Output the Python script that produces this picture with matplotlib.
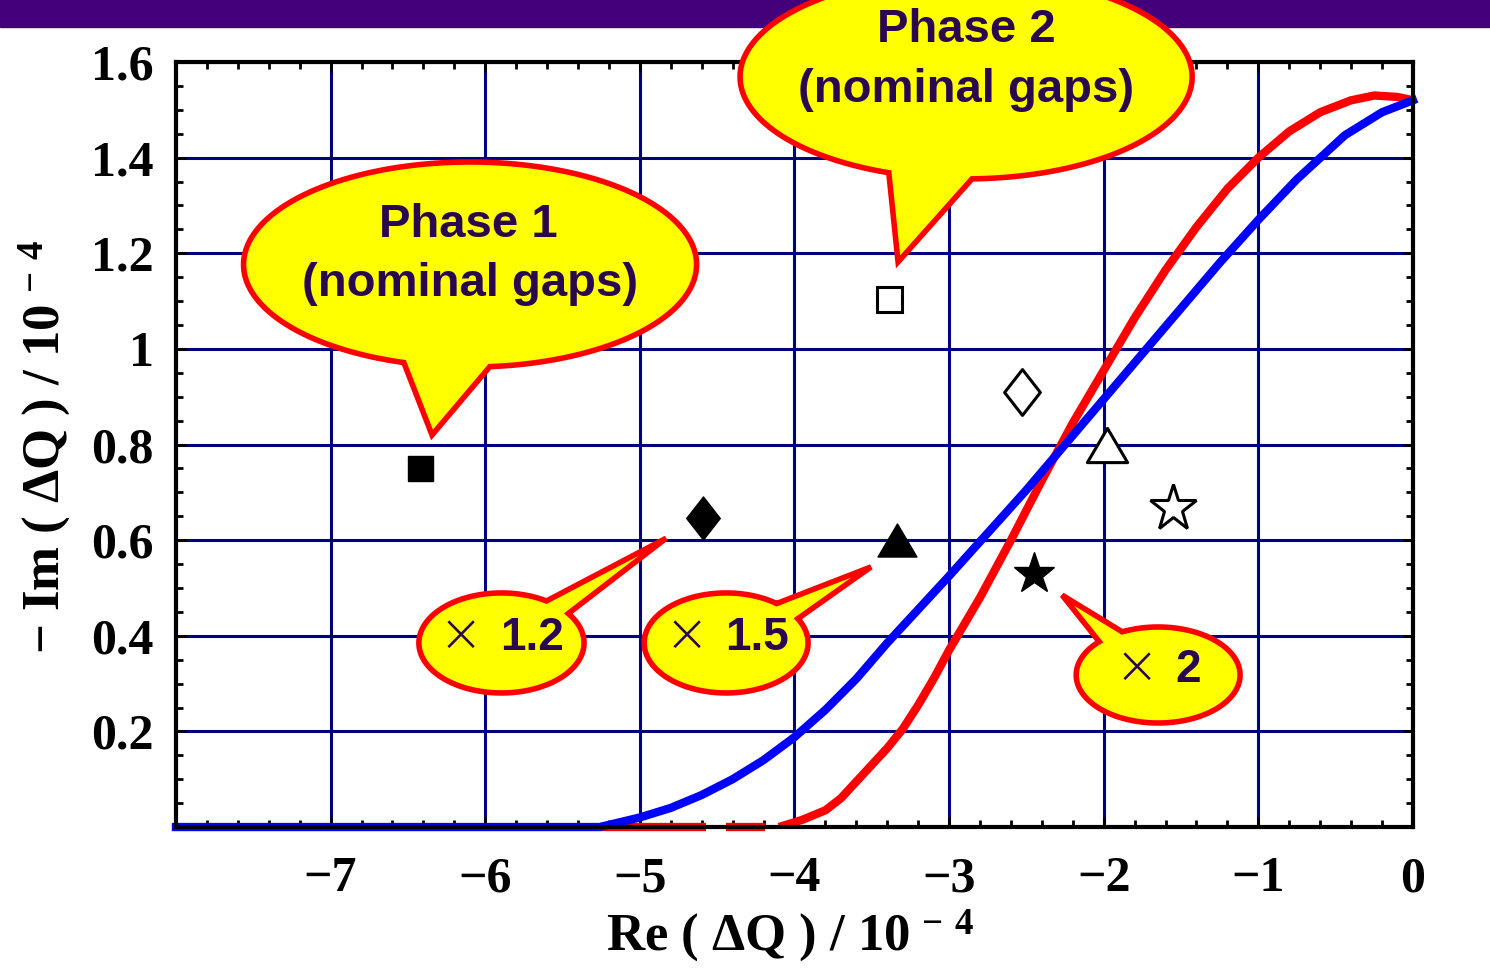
import numpy as np
import matplotlib
matplotlib.use("Agg")
import matplotlib.pyplot as plt
from matplotlib.patches import Polygon, Rectangle
from matplotlib.path import Path
from matplotlib.ticker import MultipleLocator

plt.rcParams['mathtext.fontset'] = 'custom'
plt.rcParams['mathtext.rm'] = 'Liberation Serif:bold'
plt.rcParams['mathtext.it'] = 'Liberation Serif:bold'
plt.rcParams['mathtext.bf'] = 'Liberation Serif:bold'

# stability curves
blue_x = [-8.0, -5.6, -5.26, -5.0, -4.8, -4.6, -4.4, -4.2, -4.0, -3.8, -3.6, -3.4,
          -3.2, -3.0, -2.75, -2.5, -2.25, -2.0, -1.75, -1.5, -1.25, -1.0, -0.75,
          -0.44, -0.2, 0.0]
blue_y = [0.0, 0.0, 0.0, 0.02, 0.04, 0.067, 0.10, 0.14, 0.188, 0.245, 0.31, 0.385,
          0.455, 0.525, 0.615, 0.705, 0.80, 0.895, 0.99, 1.085, 1.18, 1.27, 1.355,
          1.447, 1.495, 1.52]

red_x = [-4.1, -3.95, -3.8, -3.7, -3.6, -3.5, -3.4, -3.3, -3.2, -3.1, -3.0, -2.8, -2.6,
         -2.4, -2.2, -2.0, -1.8, -1.6, -1.4, -1.2, -1.0, -0.8, -0.6, -0.4,
         -0.25, -0.1, 0.0]
red_y = [0.0, 0.015, 0.035, 0.06, 0.095, 0.13, 0.165, 0.205, 0.255, 0.31, 0.37, 0.48,
         0.60, 0.725, 0.845, 0.955, 1.065, 1.165, 1.255, 1.335, 1.40, 1.455,
         1.495, 1.52, 1.53, 1.527, 1.52]
# flat red stretches along the axis before the curve lifts off
red_flat_start = [-5.26, -4.44]
red_flat_end = [-4.57, -4.19]

# measured working points
filled_x = {'s': -6.42, 'D': -4.59, '^': -3.34, '*': -2.45}
filled_y = {'s': 0.75, 'D': 0.646, '^': 0.60, '*': 0.529}
open_x = {'s': -3.39, 'D': -2.53, '^': -1.98, '*': -1.55}
open_y = {'s': 1.104, 'D': 0.91, '^': 0.80, '*': 0.667}

x_ticks = [-7, -6, -5, -4, -3, -2, -1, 0]
y_ticks = [0.2, 0.4, 0.6, 0.8, 1.0, 1.2, 1.4, 1.6]
y_tick_labels = ['0.2', '0.4', '0.6', '0.8', '1', '1.2', '1.4', '1.6']

NAVY = '#000080'
TXT = '#2a0850'
SERIF = 'Liberation Serif'

diamond = Path([(0, 1), (0.78, 0), (0, -1), (-0.78, 0), (0, 1)], closed=True)
triangle = Path([(-1, -0.85), (1, -0.85), (0, 0.85), (-1, -0.85)], closed=True)
marker_shape = {'s': ('s', 18), 'D': (diamond, 31), '^': (triangle, 28), '*': ('*', 31)}
open_size = {'s': 18, 'D': 33, '^': 29, '*': 35}

fig = plt.figure(figsize=(14.9, 9.77), dpi=100)
fig.patches.append(Rectangle((0, 0.9724), 1, 0.0276, transform=fig.transFigure,
                             color='#43007a', zorder=-1))
ax = fig.add_axes([0.1181, 0.1535, 0.8302, 0.7830])

ax.plot(red_x, red_y, color='red', lw=6, zorder=3, solid_capstyle='butt')
for x0, x1 in zip(red_flat_start, red_flat_end):
    ax.plot([x0, x1], [0, 0], color='red', lw=6, zorder=3, solid_capstyle='butt',
            clip_on=False)
ax.plot(blue_x, blue_y, color='blue', lw=6, zorder=3.2, clip_on=False)

for k in filled_x:
    m, ms = marker_shape[k]
    ax.plot(filled_x[k], filled_y[k], marker=m, ms=ms, color='black', ls='none',
            zorder=4)
    ax.plot(open_x[k], open_y[k], marker=m, ms=open_size[k], mfc='white', mec='black',
            mew=2.2, ls='none', zorder=4)

ax.set_xlim(-8, 0)
ax.set_ylim(0, 1.6)
ax.set_xticks(x_ticks)
ax.set_yticks(y_ticks)
ax.set_yticklabels(y_tick_labels)
ax.xaxis.set_minor_locator(MultipleLocator(0.2))
ax.yaxis.set_minor_locator(MultipleLocator(0.05))
ax.grid(True, which='major', color=NAVY, lw=2.2)
ax.set_axisbelow(True)
ax.tick_params(which='both', direction='in', top=True, right=True, width=2, color='black')
ax.tick_params(which='major', length=7)
ax.tick_params(which='minor', length=5)
ax.tick_params(axis='x', which='major', pad=21)
ax.tick_params(axis='y', which='major', pad=16)
for lab in ax.get_xticklabels() + ax.get_yticklabels():
    lab.set_fontfamily(SERIF)
    lab.set_fontweight('bold')
    lab.set_fontsize(36)
for sp in ax.spines.values():
    sp.set_linewidth(3)
    sp.set_zorder(3.5)

ax.set_xlabel('Re ( ΔQ ) / 10$^{\\,-\\,4}$', fontfamily=SERIF, fontweight='bold',
              fontsize=38)
ax.set_ylabel('− Im ( ΔQ ) / 10$^{\\,-\\,4}$', fontfamily=SERIF, fontweight='bold',
              fontsize=38)
ax.xaxis.set_label_coords(0.496, -0.105)
ax.yaxis.set_label_coords(-0.083, 0.497)


def callout(cx, cy, a, b, ta, tb, tip):
    t = np.radians(np.linspace(tb, ta + 360, 200))
    pts = np.column_stack([cx + a * np.cos(t), cy + b * np.sin(t)])
    pts = np.vstack([pts, tip])
    ax.add_patch(Polygon(pts, closed=True, facecolor='#ffff00', edgecolor='red',
                         lw=4, joinstyle='miter', clip_on=False, zorder=6))


callout(-6.098, 1.1765, 1.465, 0.2144, -107, -85, (-6.344, 0.820))
callout(-2.890, 1.569, 1.462, 0.2134, -110, -88.5, (-3.330, 1.182))
callout(-5.895, 0.385, 0.534, 0.1046, 36, 57, (-4.83, 0.604))
callout(-4.442, 0.385, 0.530, 0.1046, 29, 52, (-3.505, 0.544))
callout(-1.648, 0.318, 0.530, 0.1004, 116, 136, (-2.269, 0.485))

bold = dict(family='Liberation Sans', weight='bold', color=TXT, fontsize=34,
            ha='center', va='center', zorder=7, clip_on=False)
ax.text(-6.11, 1.26, 'Phase 1', **bold)
ax.text(-6.10, 1.135, '(nominal gaps)', **bold)
ax.text(-2.89, 1.667, 'Phase 2', **bold)
ax.text(-2.89, 1.541, '(nominal gaps)', **bold)

cross = dict(family='DejaVu Sans', weight='light', color=TXT, fontsize=38,
             ha='center', va='center', zorder=7, clip_on=False)
mult = dict(bold, fontsize=33)
ax.text(-6.157, 0.400, '×', **cross)
ax.text(-5.694, 0.396, '1.2', **mult)
ax.text(-4.70, 0.400, '×', **cross)
ax.text(-4.242, 0.396, '1.5', **mult)
ax.text(-1.784, 0.333, '×', **cross)
ax.text(-1.454, 0.329, '2', **mult)

fig.savefig('out.png', dpi=100)
